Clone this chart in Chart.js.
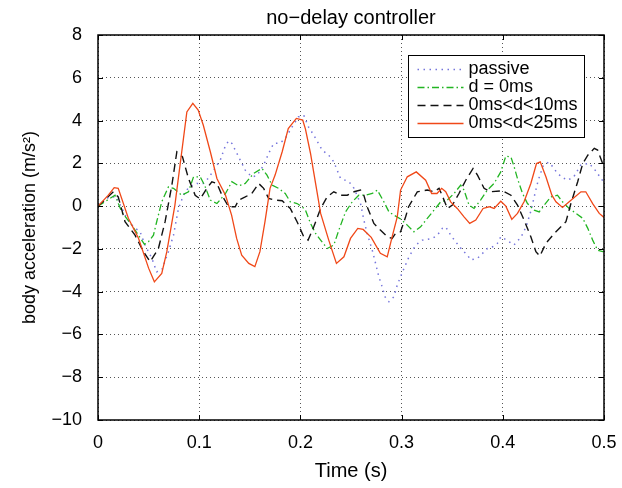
<!DOCTYPE html>
<html><head><meta charset="utf-8">
<script src="https://cdn.jsdelivr.net/npm/chart.js@4"></script>
<style>html,body{margin:0;padding:0;background:#fff}#wrap{width:622px;height:488px}</style>
</head><body><div id="wrap"><canvas id="c" width="622" height="488"></canvas></div>
<script>
const chartTitle = 'no\u2212delay controller';
const xTitle = 'Time (s)';
const yTitle = 'body acceleration (m/s\u00B2)';
const seriesLabels = ['passive', 'd = 0ms', '0ms<d<10ms', '0ms<d<25ms'];
const xTicks = [0, 0.1, 0.2, 0.3, 0.4, 0.5];
const xTickLabels = ['0', '0.1', '0.2', '0.3', '0.4', '0.5'];
const yTicks = [-10, -8, -6, -4, -2, 0, 2, 4, 6, 8];
const yTickLabels = ['\u221210', '\u22128', '\u22126', '\u22124', '\u22122', '0', '2', '4', '6', '8'];

const passiveT = [0, 0.01, 0.018, 0.0284, 0.035, 0.0416, 0.0465, 0.0532, 0.058, 0.063, 0.0696, 0.0746, 0.0795, 0.0845, 0.09, 0.0977, 0.104, 0.109, 0.1208, 0.1257, 0.129, 0.1323, 0.139, 0.1455, 0.152, 0.157, 0.1637, 0.1686, 0.1736, 0.18, 0.185, 0.1918, 0.198, 0.2033, 0.208, 0.2132, 0.2215, 0.228, 0.233, 0.2396, 0.248, 0.253, 0.2594, 0.2627, 0.266, 0.271, 0.2743, 0.2775, 0.2802, 0.2842, 0.2875, 0.2924, 0.2957, 0.3007, 0.3073, 0.3139, 0.3205, 0.3304, 0.3353, 0.3403, 0.3436, 0.3485, 0.3535, 0.36, 0.365, 0.3683, 0.375, 0.38, 0.3848, 0.39, 0.3947, 0.398, 0.404, 0.411, 0.418, 0.423, 0.428, 0.431, 0.435, 0.44, 0.445, 0.448, 0.453, 0.458, 0.464, 0.47, 0.477, 0.485, 0.49, 0.497, 0.5];
const passiveV = [0, 0.4, 0.45, -0.57, -0.97, -1.2, -1.82, -2.44, -3.07, -2.99, -2.13, -1.36, -0.11, 0.51, 0.9, 1.06, 1.06, 1.3, 2.15, 2.8, 3.05, 2.93, 2.3, 1.68, 1.37, 1.42, 1.92, 2.46, 2.93, 2.95, 3.16, 3.7, 4.17, 4.25, 3.7, 3.32, 2.62, 2.38, 2.07, 1.3, 1.14, 0.83, 0.12, -0.65, -1.28, -2.06, -2.68, -3.3, -3.69, -4.31, -4.47, -4.24, -3.69, -3.1, -2.37, -1.82, -1.59, -1.51, -1.36, -1.04, -0.97, -1.36, -1.67, -2.06, -2.29, -2.52, -2.44, -2.21, -1.98, -1.9, -1.74, -1.43, -1.6, -1.82, -1.45, -0.97, -0.19, 0.43, 1.21, 1.9, 2.05, 1.92, 1.6, 1.36, 1.21, 1.36, 1.92, 2.0, 1.76, 1.3, 1.1];

const d0T = [0, 0.0119, 0.0168, 0.0234, 0.0333, 0.04, 0.0459, 0.0498, 0.0548, 0.058, 0.063, 0.0696, 0.0746, 0.0828, 0.0894, 0.0944, 0.101, 0.1053, 0.111, 0.1175, 0.126, 0.1323, 0.139, 0.1455, 0.1538, 0.162, 0.167, 0.172, 0.1785, 0.185, 0.19, 0.1967, 0.2017, 0.205, 0.21, 0.215, 0.22, 0.2265, 0.233, 0.238, 0.2446, 0.2512, 0.2577, 0.2644, 0.271, 0.276, 0.2825, 0.2875, 0.2924, 0.299, 0.3056, 0.3122, 0.3188, 0.3254, 0.332, 0.3386, 0.3452, 0.3518, 0.3584, 0.3617, 0.3666, 0.3716, 0.378, 0.3848, 0.3914, 0.398, 0.403, 0.408, 0.4112, 0.4145, 0.4195, 0.4244, 0.431, 0.436, 0.441, 0.4475, 0.454, 0.459, 0.4656, 0.4723, 0.479, 0.484, 0.4888, 0.4937, 0.4987, 0.5];
const d0V = [0, 0.36, 0.51, -0.27, -0.89, -1.36, -1.79, -1.67, -1.36, -0.73, 0.2, 0.9, 0.83, 0.51, 0.67, 1.37, 1.37, 0.98, 0.28, 0.12, 0.59, 1.14, 0.95, 1.06, 1.53, 1.76, 1.45, 0.98, 0.83, 0.59, 0.2, 0.12, -0.03, -0.19, -0.81, -1.28, -1.59, -1.98, -1.82, -1.12, -0.27, 0.2, 0.51, 0.51, 0.59, 0.75, 0.2, -0.27, -0.42, -0.6, -0.89, -1.2, -0.97, -0.57, -0.19, 0.2, 0.28, 0.59, 0.98, 0.75, 0.05, -0.11, 0.28, 0.75, 1.06, 1.6, 2.34, 2.3, 1.84, 1.29, 0.59, 0.12, -0.19, -0.27, 0.05, 0.43, 0.51, 0.2, -0.11, -0.34, -0.57, -1.04, -1.59, -2.06, -2.13, -2.1];

const d10T = [0, 0.0152, 0.020, 0.0267, 0.0366, 0.0449, 0.0515, 0.0597, 0.0663, 0.073, 0.0779, 0.0835, 0.0894, 0.096, 0.101, 0.1076, 0.1125, 0.1175, 0.1225, 0.129, 0.1356, 0.139, 0.1455, 0.152, 0.1587, 0.1637, 0.1686, 0.175, 0.182, 0.19, 0.1967, 0.2033, 0.2076, 0.2132, 0.22, 0.2264, 0.233, 0.2396, 0.2463, 0.253, 0.2594, 0.2627, 0.266, 0.2726, 0.279, 0.2858, 0.2907, 0.294, 0.299, 0.304, 0.3069, 0.3155, 0.3254, 0.332, 0.337, 0.340, 0.3452, 0.3502, 0.3567, 0.3634, 0.3706, 0.375, 0.3815, 0.388, 0.3997, 0.408, 0.4145, 0.421, 0.4277, 0.4327, 0.4366, 0.4426, 0.4508, 0.4574, 0.4624, 0.4673, 0.474, 0.479, 0.484, 0.4904, 0.4937, 0.4987, 0.5];
const d10V = [0, 0.67, 0.43, -0.73, -1.36, -2.13, -2.6, -1.98, -0.73, 0.98, 2.54, 2.3, 1.29, 0.51, 0.33, 0.83, 1.14, 1.06, 0.51, -0.03, -0.03, 0.28, 0.43, 0.59, 1.06, 0.83, 0.36, 0.28, 0.25, -0.11, -0.73, -1.43, -1.59, -0.97, -0.11, 0.43, 0.67, 0.51, 0.51, 0.67, 0.75, 0.51, -0.03, -0.81, -1.12, -1.43, -1.51, -1.28, -1.2, -0.5, -0.03, 0.67, 0.75, 0.67, 0.83, 0.51, -0.11, 0.05, 0.59, 1.21, 1.76, 1.45, 0.83, 0.67, 0.72, 0.51, 0.05, -0.65, -1.43, -2.13, -2.34, -1.74, -1.28, -0.97, -0.73, 0.12, 1.14, 1.99, 2.38, 2.7, 2.62, 1.99, 1.8];

const d25T = [0, 0.01, 0.016, 0.020, 0.030, 0.040, 0.050, 0.0557, 0.063, 0.068, 0.076, 0.0878, 0.0937, 0.099, 0.104, 0.111, 0.1175, 0.126, 0.132, 0.137, 0.142, 0.149, 0.155, 0.160, 0.165, 0.170, 0.175, 0.182, 0.188, 0.196, 0.2023, 0.205, 0.210, 0.215, 0.220, 0.228, 0.2356, 0.243, 0.2495, 0.2567, 0.262, 0.270, 0.279, 0.2858, 0.2907, 0.2957, 0.299, 0.3056, 0.3145, 0.3238, 0.3297, 0.335, 0.3396, 0.3436, 0.3485, 0.355, 0.3617, 0.3673, 0.3733, 0.3805, 0.3865, 0.3914, 0.398, 0.403, 0.4089, 0.4145, 0.421, 0.4277, 0.4333, 0.437, 0.4426, 0.4485, 0.4525, 0.459, 0.4656, 0.4772, 0.482, 0.4888, 0.4953, 0.5];
const d25V = [0, 0.5, 0.86, 0.83, -0.57, -1.5, -2.9, -3.54, -3.15, -2.13, 0.05, 4.4, 4.8, 4.49, 3.79, 2.54, 1.29, 0.51, -0.42, -1.51, -2.29, -2.68, -2.83, -2.13, -0.73, 0.83, 1.45, 2.54, 3.63, 4.1, 4.02, 3.6, 2.46, 1.06, -0.34, -1.59, -2.68, -2.37, -1.51, -1.04, -1.09, -1.46, -2.21, -2.37, -1.43, -0.5, 0.75, 1.37, 1.6, 1.21, 0.59, 0.59, 0.83, 0.67, 0.2, -0.11, -0.5, -0.81, -0.65, -0.11, -0.03, -0.11, 0.23, 0.0, -0.62, -0.34, 0.2, 1.06, 1.99, 2.07, 1.37, 0.51, 0.2, -0.06, 0.2, 0.67, 0.67, 0.12, -0.34, -0.53];

const FONT = '"Liberation Sans", Arial, Helvetica, sans-serif';
const pts = (t, v) => t.map((x, i) => ({ x: x, y: v[i] }));

const framePlugin = {
  id: 'frame',
  afterDatasetsDraw(chart) {
    const { ctx, chartArea: a, scales: { x, y } } = chart;
    ctx.save();
    ctx.strokeStyle = '#000';
    ctx.lineWidth = 1;
    ctx.setLineDash([]);
    ctx.beginPath();
    xTicks.forEach(v => {
      const px = Math.round(x.getPixelForValue(v)) + 0.5;
      ctx.moveTo(px, a.bottom); ctx.lineTo(px, a.bottom - 5);
      ctx.moveTo(px, a.top); ctx.lineTo(px, a.top + 5);
    });
    yTicks.forEach(v => {
      const py = Math.round(y.getPixelForValue(v)) + 0.5;
      ctx.moveTo(a.left, py); ctx.lineTo(a.left + 5, py);
      ctx.moveTo(a.right, py); ctx.lineTo(a.right - 5, py);
    });
    ctx.stroke();
    ctx.lineWidth = 1.5;
    ctx.strokeRect(Math.round(a.left), Math.round(a.top), Math.round(a.right - a.left), Math.round(a.bottom - a.top));
    ctx.restore();
  }
};

const legendPlugin = {
  id: 'boxLegend',
  afterDraw(chart) {
    const { ctx, chartArea: a } = chart;
    const bx = Math.round(a.right - 196) + 0.5, by = Math.round(a.top + 20) + 0.5, bw = 176, bh = 82;
    ctx.save();
    ctx.fillStyle = '#fff';
    ctx.fillRect(bx, by, bw, bh);
    ctx.strokeStyle = '#000'; ctx.lineWidth = 1; ctx.setLineDash([]);
    ctx.strokeRect(bx, by, bw, bh);
    ctx.font = '18px ' + FONT;
    ctx.textBaseline = 'middle'; ctx.textAlign = 'left';
    chart.data.datasets.forEach((ds, i) => {
      const yy = Math.round(by + 13 + i * 18.3) + 0.5;
      ctx.strokeStyle = ds.borderColor; ctx.lineWidth = ds.borderWidth;
      ctx.setLineDash(ds.borderDash || []);
      ctx.beginPath(); ctx.moveTo(bx + 9, yy); ctx.lineTo(bx + 55, yy); ctx.stroke();
      ctx.fillStyle = '#000';
      ctx.fillText(ds.label, bx + 60, yy);
    });
    ctx.restore();
  }
};

new Chart(document.getElementById('c'), {
  type: 'line',
  data: {
    datasets: [
      { label: seriesLabels[0], data: pts(passiveT, passiveV), borderColor: '#7575dc', borderWidth: 1.5, borderDash: [1.5, 4.5], order: 3 },
      { label: seriesLabels[1], data: pts(d0T, d0V), borderColor: '#22b522', borderWidth: 1.3, borderDash: [7, 3, 1.5, 3], order: 2 },
      { label: seriesLabels[2], data: pts(d10T, d10V), borderColor: '#111111', borderWidth: 1.4, borderDash: [8, 5], order: 1 },
      { label: seriesLabels[3], data: pts(d25T, d25V), borderColor: '#f04818', borderWidth: 1.3, borderDash: [], order: 0 }
    ]
  },
  options: {
    responsive: false,
    animation: false,
    devicePixelRatio: 1,
    layout: { padding: { left: 0, right: 18, top: 0, bottom: 0 } },
    elements: { point: { radius: 0 }, line: { tension: 0, fill: false } },
    plugins: {
      legend: { display: false },
      tooltip: { enabled: false },
      title: {
        display: true, text: chartTitle, color: '#000', fullSize: false,
        font: { family: FONT, size: 20, weight: 'normal' },
        padding: { top: 6, bottom: 5 }
      }
    },
    scales: {
      x: {
        type: 'linear', min: 0, max: 0.5,
        afterBuildTicks: s => { s.ticks = xTicks.map(v => ({ value: v })); },
        afterFit: s => { s.height = 68; s.paddingLeft = 0; s.paddingRight = 0; },
        ticks: {
          color: '#000', font: { family: FONT, size: 18 }, padding: 12, maxRotation: 0,
          callback: v => xTickLabels[xTicks.indexOf(Math.round(v * 10) / 10)]
        },
        grid: { color: '#555', lineWidth: 1, drawTicks: false },
        border: { display: false, dash: [1, 3] },
        title: { display: true, text: xTitle, color: '#000', font: { family: FONT, size: 20 }, padding: { top: 0, bottom: 5 } }
      },
      y: {
        type: 'linear', min: -10, max: 8,
        afterBuildTicks: s => { s.ticks = yTicks.map(v => ({ value: v })); },
        afterFit: s => { s.width = 98; s.paddingTop = 0; s.paddingBottom = 0; },
        ticks: {
          color: '#000', font: { family: FONT, size: 18 }, padding: 16,
          callback: v => yTickLabels[yTicks.indexOf(v)]
        },
        grid: { color: '#555', lineWidth: 1, drawTicks: false },
        border: { display: false, dash: [1, 3] },
        title: { display: true, text: yTitle, color: '#000', font: { family: FONT, size: 18 }, padding: { top: 19, bottom: 0 } }
      }
    }
  },
  plugins: [framePlugin, legendPlugin]
});
</script>
</body></html>
